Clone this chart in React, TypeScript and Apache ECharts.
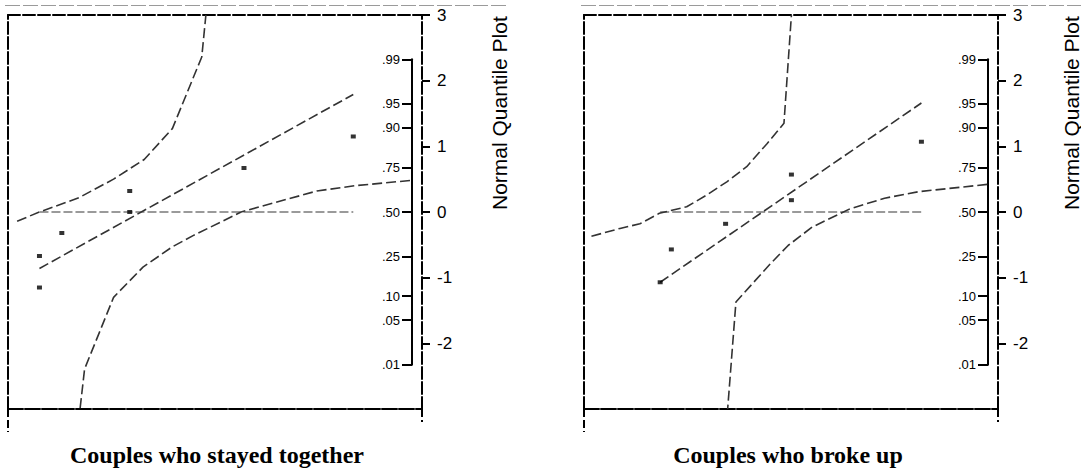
import React, { useEffect, useRef } from 'react';
import * as echarts from 'echarts';

// ---------- data (x in arbitrary score units 0..100, y as normal quantile z) ----------
const X_MIN = 0;
const X_MAX = 100;
const Z_TICKS = [-2, -1, 0, 1, 2, 3];
const probLabels = ['.01', '.05', '.10', '.25', '.50', '.75', '.90', '.95', '.99'];
const probZ = [-2.326, -1.645, -1.282, -0.674, 0, 0.674, 1.282, 1.645, 2.326];

const panelTitles = ['Couples who stayed together', 'Couples who broke up'];
const axisTitle = 'Normal Quantile Plot';

const stayedX = [7.6, 7.6, 13.0, 29.4, 29.4, 57.0, 83.4];
const stayedZ = [-1.15, -0.67, -0.32, 0, 0.32, 0.67, 1.15];
const stayedFitX = [7.6, 83.4];
const stayedFitZ = [-0.86, 1.79];
const stayedUpperX = [2.2, 7.6, 17.2, 25.5, 32.9, 39.7, 46.8, 47.8];
const stayedUpperZ = [-0.14, 0.0, 0.22, 0.5, 0.8, 1.27, 2.36, 3.0];
const stayedLowerX = [97.1, 83.8, 74.6, 56.3, 44.7, 39.7, 32.6, 25.5, 18.5, 17.4];
const stayedLowerZ = [0.48, 0.4, 0.32, 0.0, -0.36, -0.53, -0.84, -1.3, -2.39, -3.0];

const brokeX = [18.4, 21.1, 34.2, 50.1, 50.1, 81.5];
const brokeZ = [-1.07, -0.57, -0.18, 0.18, 0.57, 1.07];
const brokeFitX = [18.4, 81.5];
const brokeFitZ = [-1.07, 1.66];
const brokeUpperX = [1.8, 8.7, 13.5, 18.2, 24.8, 29.7, 34.5, 39.3, 44.2, 48.3, 50.1];
const brokeUpperZ = [-0.37, -0.25, -0.18, -0.02, 0.08, 0.26, 0.46, 0.69, 1.04, 1.35, 3.0];
const brokeLowerX = [97.4, 80.9, 72.6, 64.3, 55.1, 49.3, 45.0, 36.7, 34.7];
const brokeLowerZ = [0.42, 0.31, 0.21, 0.05, -0.23, -0.51, -0.79, -1.37, -3.0];

// ---------- layout ----------
const PANEL_LEFTS = [8, 584];
const PANEL_TOP = 15;
const PANEL_W = 414;
const PANEL_H = 394;
const Z_MIN = -3;
const Z_MAX = 3;
const PROB_INSET = 10;
const TITLE_X = [217, 788];
const AXIS_TITLE_X = [499, 1071];

const SANS = "'Liberation Sans', Arial, sans-serif";
const SERIF = "'Liberation Serif', 'Times New Roman', serif";

const zip = (xs: number[], ys: number[]) => xs.map((x, k) => [x, ys[k]]);

type PanelData = {
  x: number[]; z: number[]; fitX: number[]; fitZ: number[];
  upX: number[]; upZ: number[]; loX: number[]; loZ: number[];
};

const panels: PanelData[] = [
  { x: stayedX, z: stayedZ, fitX: stayedFitX, fitZ: stayedFitZ, upX: stayedUpperX, upZ: stayedUpperZ, loX: stayedLowerX, loZ: stayedLowerZ },
  { x: brokeX, z: brokeZ, fitX: brokeFitX, fitZ: brokeFitZ, upX: brokeUpperX, upZ: brokeUpperZ, loX: brokeLowerX, loZ: brokeLowerZ },
];

function buildOption() {
  const grid: any[] = [];
  const xAxis: any[] = [];
  const yAxis: any[] = [];
  const series: any[] = [];
  const graphic: any[] = [];
  const title: any[] = [];
  const zRange = Z_MAX - Z_MIN;
  const pMin = probZ[0];
  const pMax = probZ[probZ.length - 1];

  panels.forEach((d, i) => {
    const left = PANEL_LEFTS[i];
    grid.push({ left, top: PANEL_TOP, width: PANEL_W, height: PANEL_H });
    grid.push({
      left,
      top: PANEL_TOP + ((Z_MAX - pMax) / zRange) * PANEL_H,
      width: PANEL_W - PROB_INSET,
      height: ((pMax - pMin) / zRange) * PANEL_H,
    });
    const gMain = 2 * i;
    const gProb = 2 * i + 1;
    const hidden = { show: false };
    // x axes
    xAxis.push({
      gridIndex: gMain, type: 'value', position: 'bottom', min: X_MIN, max: X_MAX,
      axisLine: { show: true, onZero: false, lineStyle: { color: '#000', width: 2, type: [15, 2] } },
      axisTick: { show: true, customValues: [X_MIN], length: 23, lineStyle: { color: '#000', width: 2, type: [8, 3] } },
      axisLabel: hidden, splitLine: hidden,
    });
    xAxis.push({
      gridIndex: gMain, type: 'value', position: 'bottom', min: X_MIN, max: X_MAX,
      axisLine: { show: false, onZero: false },
      axisTick: { show: true, customValues: [X_MAX], length: 13, lineStyle: { color: '#000', width: 2, type: [8, 3] } },
      axisLabel: hidden, splitLine: hidden,
    });
    xAxis.push({
      gridIndex: gMain, type: 'value', position: 'top', min: X_MIN, max: X_MAX,
      axisLine: { show: true, onZero: false, lineStyle: { color: '#000', width: 2, type: [12, 3] } },
      axisTick: hidden, axisLabel: hidden, splitLine: hidden,
    });
    xAxis.push({ gridIndex: gProb, type: 'value', min: X_MIN, max: X_MAX, show: false, axisLine: { onZero: false } });
    // y axes
    yAxis.push({
      gridIndex: gMain, type: 'value', position: 'left', min: Z_MIN, max: Z_MAX,
      axisLine: { show: true, onZero: false, lineStyle: { color: '#000', width: 2, type: [12, 3] } },
      axisTick: hidden, axisLabel: hidden, splitLine: hidden,
    });
    yAxis.push({
      gridIndex: gMain, type: 'value', position: 'right', min: Z_MIN, max: Z_MAX,
      axisLine: { show: true, onZero: false, lineStyle: { color: '#000', width: 2, type: [12, 3] } },
      axisTick: { show: true, customValues: Z_TICKS, length: 8, lineStyle: { color: '#000', width: 2 } },
      axisLabel: {
        show: true, customValues: Z_TICKS, margin: 15, color: '#000', fontSize: 17, fontFamily: SANS,
        formatter: (v: number) => String(v),
      },
      splitLine: hidden,
    });
    yAxis.push({
      gridIndex: gProb, type: 'value', position: 'right', min: pMin, max: pMax,
      axisLine: { show: true, onZero: false, lineStyle: { color: '#000', width: 2 } },
      axisTick: { show: true, inside: true, customValues: probZ, length: 10, lineStyle: { color: '#000', width: 2 } },
      axisLabel: {
        show: true, inside: true, customValues: probZ, margin: 12, color: '#000', fontSize: 13, fontFamily: SANS,
        formatter: (v: number) => {
          let best = 0;
          probZ.forEach((z, k) => { if (Math.abs(z - v) < Math.abs(probZ[best] - v)) best = k; });
          return probLabels[best];
        },
      },
      splitLine: hidden,
    });

    const xi = 4 * i;
    const yi = 3 * i + 1;
    const xmin = Math.min(...d.x);
    const xmax = Math.max(...d.x);
    const dashStyle = { color: '#333', width: 1.6, type: [10, 4] };
    series.push({
      type: 'line', xAxisIndex: xi, yAxisIndex: yi, symbol: 'none', silent: true,
      data: [[xmin, 0], [xmax, 0]],
      lineStyle: { color: '#9a9a9a', width: 2, type: [9, 3] },
    });
    series.push({ type: 'line', xAxisIndex: xi, yAxisIndex: yi, symbol: 'none', data: zip(d.upX, d.upZ), lineStyle: dashStyle });
    series.push({ type: 'line', xAxisIndex: xi, yAxisIndex: yi, symbol: 'none', data: zip(d.loX, d.loZ), lineStyle: dashStyle });
    series.push({ type: 'line', xAxisIndex: xi, yAxisIndex: yi, symbol: 'none', data: zip(d.fitX, d.fitZ), lineStyle: dashStyle });
    series.push({
      type: 'scatter', xAxisIndex: xi, yAxisIndex: yi, symbol: 'rect', symbolSize: [5, 4],
      itemStyle: { color: '#000' }, data: zip(d.x, d.z), z: 5,
    });

    // decorations
    graphic.push({
      type: 'line', silent: true,
      shape: { x1: left - 3, y1: 5.5, x2: left + 499, y2: 5.5 },
      style: { stroke: '#9a9a9a', lineWidth: 1, lineDash: [15, 3] },
    });
    graphic.push({
      type: 'text', x: AXIS_TITLE_X[i], y: 210, rotation: Math.PI / 2,
      style: { text: axisTitle, fontSize: 21, fontFamily: SANS, fill: '#000', align: 'left', verticalAlign: 'middle' },
    });
    title.push({
      text: panelTitles[i], left: TITLE_X[i], top: 443, textAlign: 'center', padding: 0,
      textStyle: { fontSize: 24, fontWeight: 'bold', fontFamily: SERIF, color: '#000' },
    });
  });

  return {
    animation: false,
    backgroundColor: '#fff',
    title, grid, xAxis, yAxis, series, graphic,
  };
}

export default function App() {
  const ref = useRef<HTMLDivElement>(null);
  useEffect(() => {
    if (!ref.current) return;
    const chart = echarts.init(ref.current, null, { renderer: 'svg' });
    chart.setOption(buildOption() as any);
    return () => chart.dispose();
  }, []);
  return <div ref={ref} style={{ position: 'absolute', left: 0, top: 0, width: 1081, height: 470 }} />;
}
